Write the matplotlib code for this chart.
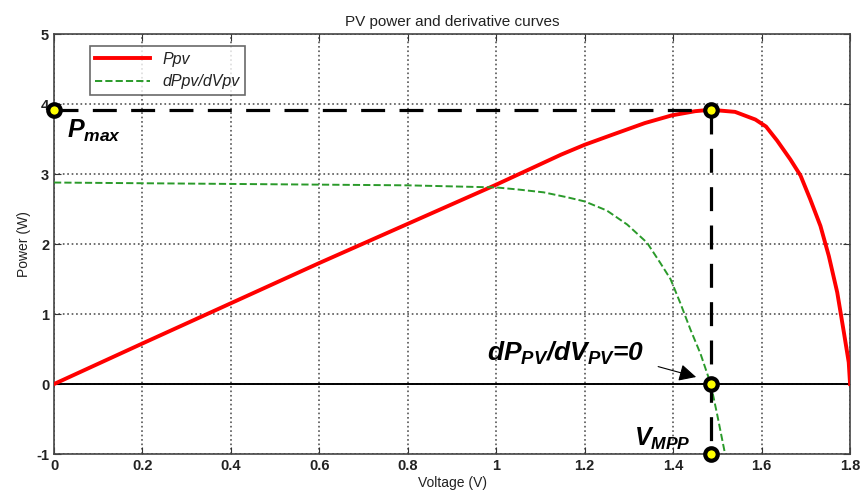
import numpy as np
import matplotlib
matplotlib.use('Agg')
import matplotlib.pyplot as plt

plt.rcParams['font.family'] = ['Liberation Sans', 'DejaVu Sans']
plt.rcParams['mathtext.fontset'] = 'custom'
plt.rcParams['mathtext.it'] = 'Liberation Sans:bold:italic'
plt.rcParams['mathtext.rm'] = 'Liberation Sans:bold:italic'
plt.rcParams['axes.unicode_minus'] = False

# curva de potencia Ppv
v_p = [0, 0.2, 0.4, 0.6, 0.8, 1.0, 1.147, 1.2, 1.261, 1.336, 1.397, 1.45,
       1.485, 1.54, 1.586, 1.61, 1.635, 1.665, 1.688, 1.71, 1.733, 1.752,
       1.771, 1.786, 1.797, 1.8]
p_pv = [0, 0.58, 1.155, 1.73, 2.29, 2.85, 3.28, 3.42, 3.56, 3.73, 3.84, 3.9,
        3.92, 3.89, 3.78, 3.68, 3.48, 3.21, 2.98, 2.64, 2.26, 1.83,
        1.31, 0.74, 0.31, 0.0]

# derivada dPpv/dVpv
v_d = [0, 0.4, 0.8, 1.0, 1.05, 1.107, 1.16, 1.2, 1.25, 1.296, 1.341, 1.371,
       1.394, 1.416, 1.439, 1.462, 1.485, 1.50, 1.518]
d_pv = [2.88, 2.86, 2.84, 2.81, 2.78, 2.74, 2.67, 2.61, 2.48, 2.28, 2.02, 1.73,
        1.50, 1.16, 0.78, 0.43, 0.0, -0.45, -1.02]

v_mpp = 1.485
p_max = 3.92

x_ticks = [0, 0.2, 0.4, 0.6, 0.8, 1, 1.2, 1.4, 1.6, 1.8]
x_labels = ['0', '0.2', '0.4', '0.6', '0.8', '1', '1.2', '1.4', '1.6', '1.8']
y_ticks = [-1, 0, 1, 2, 3, 4, 5]

fig = plt.figure(figsize=(8.63, 5.03), dpi=100)
ax = fig.add_axes([0.0626, 0.0974, 0.9224, 0.8346])

ax.plot(v_p, p_pv, '-', color='red', lw=2.8, label='Ppv', zorder=3)
ax.plot(v_d, d_pv, '--', color='#2a9a2a', lw=1.4, label='dPpv/dVpv', zorder=3)
ax.axhline(0, color='black', lw=1.4, zorder=2)

# lineas de trazos del MPP
ax.plot([0, v_mpp], [p_max, p_max], '--', color='black', lw=2.3,
        dashes=(7.5, 4.5), zorder=4)
ax.plot([v_mpp, v_mpp], [p_max, -1], '--', color='black', lw=2.3,
        dashes=(7.5, 4.5), zorder=4)

ax.plot([0, v_mpp, v_mpp, v_mpp], [p_max, p_max, 0, -1], 'o',
        ms=9, mfc='yellow', mec='black', mew=3, zorder=6, clip_on=False)

ax.set_xlim(0, 1.8)
ax.set_ylim(-1, 5)
ax.set_xticks(x_ticks)
ax.set_xticklabels(x_labels)
ax.set_yticks(y_ticks)
ax.tick_params(direction='in', top=True, right=True, labelsize=10.5, length=5,
               colors='#333333', labelcolor='#222222')
for lab in ax.get_xticklabels() + ax.get_yticklabels():
    lab.set_fontweight('bold')
ax.grid(True, linestyle=':', color='#555555', lw=1.2)
for s in ax.spines.values():
    s.set_color('#444444')
    s.set_linewidth(1.2)

ax.set_title('PV power and derivative curves', fontsize=11, color='#222222')
ax.set_xlabel('Voltage (V)', fontsize=10, color='#222222', labelpad=2)
ax.set_ylabel('Power (W)', fontsize=10, color='#222222', labelpad=4)

leg = ax.legend(loc='upper left', bbox_to_anchor=(0.035, 0.99), fontsize=11.5,
                frameon=True, fancybox=False, edgecolor='#444444',
                handlelength=3.4, borderpad=0.35, labelspacing=0.45)
leg.get_frame().set_linewidth(1.2)
for t in leg.get_texts():
    t.set_color('#222222')
    t.set_style('italic')

ax.text(0.03, 3.62, '$P_{max}$', fontsize=18, color='black', va='center')
ax.text(1.156, 0.44, '$dP_{PV}/dV_{PV}$=0', fontsize=19, color='black',
        va='center', ha='center', fontweight='bold', style='italic')
ax.annotate('', xy=(1.458, 0.09), xytext=(1.36, 0.26),
            arrowprops=dict(arrowstyle='-|>', color='black', lw=0.8,
                            mutation_scale=26))
ax.text(1.375, -0.78, '$V_{MPP}$', fontsize=18, color='black', va='center',
        ha='center')

fig.savefig('out.png', dpi=100)
